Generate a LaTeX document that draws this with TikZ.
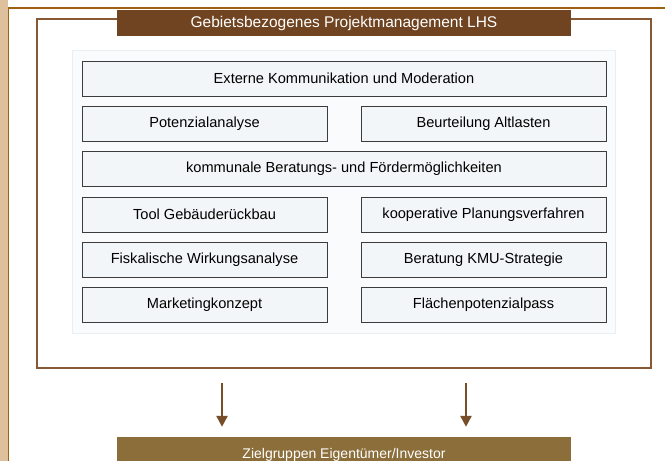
\documentclass[tikz,border=0pt]{standalone}
\usepackage{fontspec}
\setmainfont{Liberation Sans}
\usetikzlibrary{arrows.meta}

\definecolor{tanband}{RGB}{222,193,156}
\definecolor{frameline}{RGB}{160,98,18}
\definecolor{outerline}{RGB}{135,88,52}
\definecolor{headfill}{RGB}{112,68,33}
\definecolor{zielfill}{RGB}{139,110,58}
\definecolor{panelfill}{RGB}{250,251,252}
\definecolor{panelline}{RGB}{234,238,241}
\definecolor{boxfill}{RGB}{243,246,248}
\definecolor{boxline}{RGB}{60,60,60}
\definecolor{arrowcol}{RGB}{120,78,40}

\tikzset{
	task/.style={draw=boxline, fill=boxfill, line width=0.9pt, minimum height=35pt,
		inner sep=0pt, font=\fontsize{14.6}{16}\selectfont},
	wide/.style={task, minimum width=524pt},
	half/.style={task, minimum width=245pt},
	banner/.style={text=white, inner sep=0pt},
	arr/.style={draw=arrowcol, line width=2.4pt, -{Triangle[length=11pt,width=11pt]}}
}

\begin{document}
\begin{tikzpicture}[x=1pt,y=-1pt]
	\useasboundingbox (0,0) rectangle (665,461);
	% page frame
	\fill[tanband] (0,0) rectangle (8,461);
	\draw[frameline, line width=1.8pt] (8.5,461) -- (8.5,8) -- (665,8);
	% outer box
	\node[draw=outerline, line width=2.2pt, minimum width=614pt, minimum height=349pt,
		inner sep=0pt] (outer) at (344,193.5) {};
	\node[fill=panelfill, draw=panelline, minimum width=543pt, minimum height=283pt,
		inner sep=0pt] (panel) at (343.5,191.5) {};
	\node[banner, fill=headfill, minimum width=454pt, minimum height=26pt,
		font=\fontsize{15.5}{17}\selectfont] (head) at (344,23)
		{Gebietsbezogenes Projektmanagement LHS};
	% tasks
	\node[wide] (extern) at (344,78.5) {Externe Kommunikation und Moderation};
	\node[half] (potenzial) at (204.5,123.5) {Potenzialanalyse};
	\node[half] (altlast) at (483.5,123.5) {Beurteilung Altlasten};
	\node[wide] (kommunal) at (344,169) {kommunale Beratungs- und Fördermöglichkeiten};
	\node[half] (tool) at (204.5,214.5) {Tool Gebäuderückbau};
	\node[half] (koop) at (483.5,214.5) {kooperative Planungsverfahren};
	\node[half] (fiskal) at (204.5,260) {Fiskalische Wirkungsanalyse};
	\node[half] (kmu) at (483.5,260) {Beratung KMU-Strategie};
	\node[half] (marketing) at (204.5,305) {Marketingkonzept};
	\node[half] (pass) at (483.5,305) {Flächenpotenzialpass};
	% target group
	\node[banner, fill=zielfill, minimum width=454pt, minimum height=35pt,
		font=\fontsize{14}{16}\selectfont] (ziel) at (344,454.5)
		{Zielgruppen Eigentümer/Investor};
	\coordinate (a1) at (222,368);
	\coordinate (a2) at (466,368);
	\draw[arr, shorten <=15pt, shorten >=10pt] (a1) -- (a1 |- ziel.north);
	\draw[arr, shorten <=15pt, shorten >=10pt] (a2) -- (a2 |- ziel.north);
\end{tikzpicture}
\end{document}
